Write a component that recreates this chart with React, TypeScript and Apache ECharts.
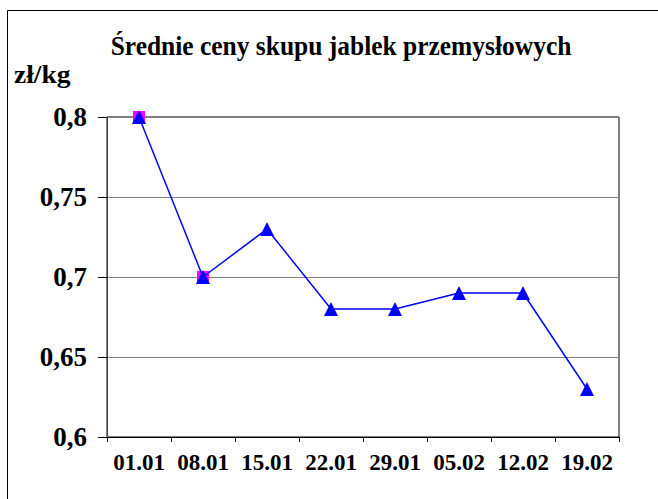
import React, { useEffect, useRef } from "react";
import * as echarts from "echarts";

const categories = ["01.01", "08.01", "15.01", "22.01", "29.01", "05.02", "12.02", "19.02"];
const prices = [0.8, 0.7, 0.73, 0.68, 0.68, 0.69, 0.69, 0.63];
const highlighted = [0.8, 0.7, null, null, null, null, null, null];
const titleText = "Średnie ceny skupu jablek przemysłowych";
const unitText = "zł/kg";

export default function App() {
  const ref = useRef<HTMLDivElement>(null);
  useEffect(() => {
    if (!ref.current) return;
    const chart = echarts.init(ref.current, null, { renderer: "svg" });
    const font = "Liberation Serif";
    chart.setOption({
      animation: false,
      backgroundColor: "#ffffff",
      graphic: [
        {
          type: "rect",
          shape: { x: 7.5, y: 10.5, width: 700, height: 600 },
          style: { fill: "none", stroke: "#000", lineWidth: 1 },
          silent: true,
        },
        {
          type: "text",
          x: 341,
          y: 46,
          scaleX: 0.91,
          style: {
            text: titleText,
            x: 0,
            y: 0,
            align: "center",
            verticalAlign: "middle",
            fontFamily: font,
            fontWeight: "bold",
            fontSize: 28,
            fill: "#000",
          },
        },
        {
          type: "text",
          x: 14,
          y: 75,
          scaleX: 1.1,
          style: {
            text: unitText,
            x: 0,
            y: 0,
            align: "left",
            verticalAlign: "middle",
            fontFamily: font,
            fontWeight: "bold",
            fontSize: 25,
            fill: "#000",
          },
        },
      ],
      grid: {
        left: 107,
        top: 117,
        width: 512,
        height: 320,
        show: true,
        borderColor: "#000",
        borderWidth: 1,
        backgroundColor: "transparent",
      },
      xAxis: {
        type: "category",
        data: categories,
        boundaryGap: true,
        axisLine: { show: true, lineStyle: { color: "#000", width: 1 } },
        axisTick: { show: true, length: 5, lineStyle: { color: "#000" } },
        axisLabel: {
          fontFamily: font,
          fontWeight: "bold",
          fontSize: 23,
          color: "#000",
          margin: 14,
          interval: 0,
        },
        splitLine: { show: false },
      },
      yAxis: {
        type: "value",
        min: 0.6,
        max: 0.8,
        interval: 0.05,
        axisLine: { show: true, lineStyle: { color: "#404040", width: 1 } },
        axisTick: { show: true, length: 9, inside: false, lineStyle: { color: "#000" } },
        axisLabel: {
          fontFamily: font,
          fontWeight: "bold",
          fontSize: 27,
          color: "#000",
          margin: 20,
          formatter: (v: number) => String(Math.round(v * 100) / 100).replace(".", ","),
        },
        splitLine: { show: true, lineStyle: { color: "#808080", width: 1 } },
      },
      series: [
        {
          type: "line",
          data: highlighted,
          symbol: "rect",
          symbolSize: 12,
          itemStyle: { color: "#ff00ff" },
          lineStyle: { width: 0, opacity: 0 },
          connectNulls: false,
          z: 2,
        },
        {
          type: "line",
          data: prices,
          symbol: "triangle",
          symbolSize: 14,
          itemStyle: { color: "#0000ff" },
          lineStyle: { color: "#0000ff", width: 1.5 },
          z: 3,
        },
      ],
    });
    return () => chart.dispose();
  }, []);
  return (
    <div
      ref={ref}
      style={{ position: "fixed", left: 0, top: 0, width: 658, height: 499 }}
    />
  );
}
